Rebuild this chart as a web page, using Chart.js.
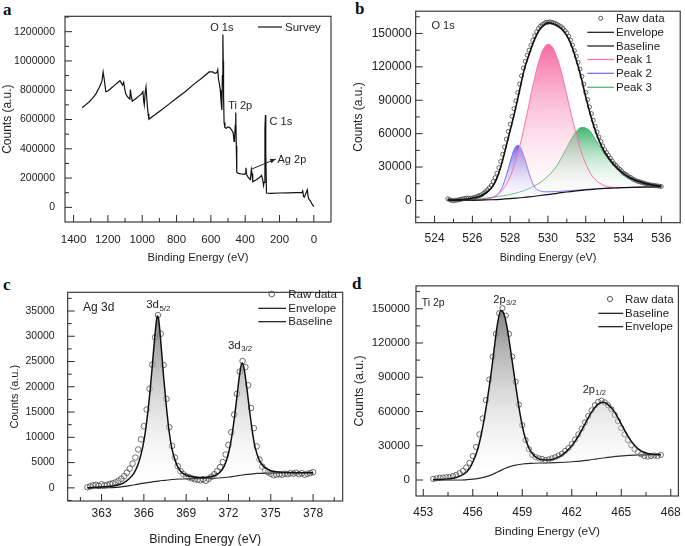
<!DOCTYPE html>
<html><head><meta charset="utf-8">
<script src="https://cdn.jsdelivr.net/npm/chart.js@4.4.1/dist/chart.umd.min.js"></script>
<style>
html,body{margin:0;padding:0;background:#fff;overflow:hidden;width:685px;height:546px;position:relative;}
canvas{position:absolute;}
.lab{position:absolute;font-family:"Liberation Serif","Times New Roman",serif;font-weight:bold;font-size:17px;color:#111;line-height:1;}
</style></head><body>
<div class="lab" style="left:3px;top:1px;">a</div>
<div class="lab" style="left:355px;top:0px;">b</div>
<div class="lab" style="left:3px;top:276px;">c</div>
<div class="lab" style="left:352px;top:275px;">d</div>
<canvas id="cA" width="342" height="270" style="left:0;top:0"></canvas>
<canvas id="cB" width="343" height="270" style="left:342px;top:0"></canvas>
<canvas id="cC" width="350" height="273" style="left:0;top:273px"></canvas>
<canvas id="cD" width="345" height="273" style="left:345px;top:273px"></canvas>
<script>
// ---------------- DATA ----------------
// (a) Survey
const surveyBE = [1350,1330,1310,1290,1270,1250,1235,1228,1222,1212,1200,1180,1160,1140,1130,1122,1115,1108,1102,1096,1088,1078,1072,1069,1064,1058,1040,1020,1004,996,992,988,983,978,972,966,961,940,900,850,800,750,700,650,610,590,575,565,560,556,550,545,541,536,533,530,528,526,523,518,510,500,490,480,470,465,462,458,455,452,449,440,420,405,400,396,392,385,375,370,364,360,356,340,320,305,298,293,290,285,282,280,276,250,200,150,100,70,65,60,55,45,38,33,28,20,12,6,0];
const surveyCounts = [680000,700000,720000,745000,775000,820000,860000,925000,880000,790000,795000,815000,835000,855000,865000,850000,835000,855000,810000,775000,760000,745000,740000,805000,760000,725000,740000,760000,775000,790000,730000,700000,780000,822000,720000,640000,602000,620000,655000,700000,745000,790000,840000,885000,925000,925000,915000,920000,940000,880000,840000,800000,730000,665000,900000,1180000,1000000,760000,580000,545000,540000,550000,545000,530000,510000,450000,470000,560000,648000,420000,240000,232000,228000,225000,230000,270000,225000,210000,195000,190000,258000,230000,175000,185000,200000,218000,190000,150000,170000,540000,630000,380000,98000,96000,98000,99000,100000,100000,112000,75000,70000,100000,120000,70000,55000,45000,25000,15000,5000];
const aXTicks = [0,200,400,600,800,1000,1200,1400];
const aYTicks = [0,200000,400000,600000,800000,1000000,1200000];

// (b) O 1s
const o1sRawBE = [524.7,524.8,524.9,525.0,525.1,525.2,525.3,525.4,525.5,525.6,525.7,525.8,525.9,526.0,526.1,526.2,526.3,526.4,526.5,526.6,526.7,526.8,526.9,527.0,527.1,527.2,527.3,527.4,527.5,527.6,527.7,527.8,527.9,528.0,528.1,528.2,528.3,528.4,528.5,528.6,528.7,528.8,528.9,529.0,529.1,529.2,529.3,529.4,529.5,529.6,529.7,529.8,529.9,530.0,530.1,530.2,530.3,530.4,530.5,530.6,530.7,530.8,530.9,531.0,531.1,531.2,531.3,531.4,531.5,531.6,531.7,531.8,531.9,532.0,532.1,532.2,532.3,532.4,532.5,532.6,532.7,532.8,532.9,533.0,533.1,533.2,533.3,533.4,533.5,533.6,533.7,533.8,533.9,534.0,534.1,534.2,534.3,534.4,534.5,534.6,534.7,534.8,534.9,535.0,535.1,535.2,535.3,535.4,535.5,535.6,535.7,535.8,535.9,536.0];
const o1sRaw = [1500,700,0,-300,200,300,600,1000,1500,1800,
2200,2000,1900,2200,2600,3200,4000,4500,5200,6500,
8000,9500,11500,13500,17000,20500,24500,29500,35000,41500,
48000,55000,62000,68500,75500,82500,89500,97000,104500,112000,
119000,125000,130500,135000,139500,144000,148000,151500,154500,156500,
158000,159000,160000,160000,160500,160000,159500,159000,158000,157000,
156000,154500,152500,150500,147500,144000,139500,134500,129500,124000,
118000,111500,104500,97000,90500,84000,78000,72000,66500,61500,
57000,53000,49000,45500,43000,40500,38000,35500,33000,31500,
29500,28000,26500,24500,23500,22500,21000,20500,19000,18500,
17500,17000,16500,16000,15500,14800,14500,14000,13800,13500,
13200,13000,12800,12500];
const o1sEnvBE = [524.7,525.0,525.5,526.0,526.5,527.0,527.25,527.5,527.75,528.0,528.25,528.5,528.75,529.0,529.25,529.5,529.75,530.0,530.25,530.5,530.75,531.0,531.25,531.5,531.75,532.0,532.25,532.5,532.75,533.0,533.5,534.0,534.5,535.0,535.5,536.0];
const o1sEnv = [800,300,700,2000,4500,11000,18000,30000,46000,63000,80000,99000,118000,131000,143000,152000,157000,159500,159000,157000,153500,148000,139000,126000,111000,93000,77000,63000,52000,43500,32000,24000,19000,16000,14000,12800];
const o1sBaseBE = [524.7,525,525.5,526,526.5,527,527.5,528,528.5,529,529.5,530,530.5,531,531.5,532,532.5,533,533.5,534,535,536];
const o1sBase = [0,0,50,100,350,600,1000,1600,2400,3200,4200,5300,6400,7600,8600,9500,10200,10800,11150,11500,12000,12300];
const o1sPeak1BE = [526,526.5,527,527.5,527.75,528,528.25,528.5,528.75,529,529.25,529.5,529.75,530,530.25,530.5,530.75,531,531.25,531.5,531.75,532,532.25,532.5,533,533.5,534,535];
const o1sPeak1 = [160,750,2400,7700,13200,21300,33000,48200,66500,86700,106700,123900,135750,140300,137350,127400,112500,94600,76100,59100,44550,33000,24350,18700,13300,11750,11600,12000];
const o1sPeak2BE = [526,526.5,527,527.2,527.4,527.6,527.8,528,528.2,528.4,528.6,528.8,529,529.2,529.4,529.6,529.8,530,530.5,531,532,533,534,535,536];
const o1sPeak2 = [300,850,2100,3400,6400,12650,22550,34600,45250,49550,45850,35850,24400,15050,10000,8500,7800,7800,8000,8600,9900,10950,11550,12000,12300];
const o1sPeak3BE = [525,526,527,528,528.5,529,529.5,530,530.5,531,531.25,531.5,531.8,532,532.25,532.5,532.75,533,533.5,534,534.5,535,535.5,536];
const o1sPeak3 = [300,900,2600,5400,7600,10700,15200,21800,31900,47600,55600,62100,65600,65000,61850,55000,48500,41500,30800,23600,18900,15800,13900,12900];
const bXTicks = [524,526,528,530,532,534,536];
const bYTicks = [0,30000,60000,90000,120000,150000];

// (c) Ag 3d
const ag3dRawBE = [362.0,362.2,362.4,362.6,362.8,363.0,363.2,363.4,363.6,363.8,364.0,364.2,364.4,364.6,364.8,365.0,365.2,365.4,365.6,365.8,366.0,366.2,366.4,366.6,366.8,367.0,367.2,367.4,367.6,367.8,368.0,368.2,368.4,368.6,368.8,369.0,369.2,369.4,369.6,369.8,370.0,370.2,370.4,370.6,370.8,371.0,371.2,371.4,371.6,371.8,372.0,372.2,372.4,372.6,372.8,373.0,373.2,373.4,373.6,373.8,374.0,374.2,374.4,374.6,374.8,375.0,375.2,375.4,375.6,375.8,376.0,376.2,376.4,376.6,376.8,377.0,377.2,377.4,377.6,377.8,378.0];
const ag3dRaw = [100,300,500,600,400,700,500,600,800,900,
1100,1400,1800,2300,3000,3800,4800,6000,7600,9600,
12200,15500,19600,24400,29800,34200,30500,24300,17600,12000,
8300,6000,4300,3300,2700,2300,2100,1900,1700,1600,
1500,1700,1400,1800,2200,2700,3300,4100,5100,6600,
8500,11000,14500,18600,23000,25100,23900,20300,15800,11800,
8200,5600,4200,3500,3100,2800,2500,2600,2700,2600,
2800,2700,2900,2800,3000,2700,2900,2600,2800,2900,
3100];
const ag3dEnvBE = [362.0,362.5,363.0,363.5,364.0,364.5,365.0,365.3,365.6,365.9,366.1,366.3,366.5,366.7,366.85,366.95,367.05,367.2,367.4,367.6,367.8,368.0,368.3,368.6,369.0,369.5,370.0,370.5,371.0,371.4,371.7,372.0,372.2,372.4,372.6,372.8,372.95,373.1,373.3,373.5,373.7,373.9,374.2,374.5,375.0,375.5,376.0,377.0,378.0];
const ag3dEnv = [0,100,150,250,450,900,1900,2900,4700,7800,11000,15400,21000,27500,32000,34000,33300,29000,22000,16000,11000,7600,4800,3300,2500,2150,2050,2100,2400,3100,4300,6800,9600,13400,18000,22600,24700,23700,19800,15200,11000,7900,5400,4200,3400,3150,3050,3000,3000];
const ag3dBaseBE = [362,363,363.5,364,364.5,365,365.5,366,366.5,367,367.5,368,368.5,369,370,371,371.5,372,372.5,373,373.5,374,374.5,375,376,377,378];
const ag3dBase = [0,0,20,100,250,450,700,950,1150,1350,1500,1650,1750,1800,1850,1900,2000,2150,2350,2550,2700,2850,2920,2950,3000,3000,3000];
const cXTicks = [363,366,369,372,375,378];
const cYTicks = [0,5000,10000,15000,20000,25000,30000,35000];

// (d) Ti 2p
const ti2pRawBE = [453.6,453.8,454.0,454.2,454.4,454.6,454.8,455.0,455.2,455.4,455.6,455.8,456.0,456.2,456.4,456.6,456.8,457.0,457.2,457.4,457.6,457.8,458.0,458.2,458.4,458.6,458.8,459.0,459.2,459.4,459.6,459.8,460.0,460.2,460.4,460.6,460.8,461.0,461.2,461.4,461.6,461.8,462.0,462.2,462.4,462.6,462.8,463.0,463.2,463.4,463.6,463.8,464.0,464.2,464.4,464.6,464.8,465.0,465.2,465.4,465.6,465.8,466.0,466.2,466.4,466.6,466.8,467.0,467.2,467.4];
const ti2pRaw = [1000,1500,2000,2200,2500,2800,3500,4500,6000,8000,
11000,15000,21000,29000,40000,54000,70000,88000,108000,128000,
146000,150500,144000,128000,108000,86000,66000,48000,35000,27000,
22000,20000,19000,18500,17500,18000,19000,20000,21500,23000,
25500,28000,31500,35500,40000,45000,50500,56000,61000,65500,
68500,69500,68000,65500,62000,57000,51500,45500,40000,35000,
30500,27000,24500,22500,21000,20500,21000,21500,21000,22000];
const ti2pEnvBE = [453.6,454.0,454.5,455.0,455.5,455.8,456.0,456.3,456.5,456.7,456.9,457.1,457.3,457.5,457.7,457.9,458.1,458.3,458.5,458.7,458.9,459.1,459.4,459.7,460.0,460.4,460.8,461.2,461.6,462.0,462.4,462.8,463.2,463.6,463.9,464.2,464.6,465.0,465.4,465.8,466.2,466.6,467.0,467.4];
const ti2pEnv = [300,500,1000,2200,5500,10000,15500,27000,39000,54000,72000,92000,115000,137000,148500,145000,132000,113000,93000,73000,55000,41000,28000,21500,18500,17500,18000,20000,24000,30000,38500,49000,59500,66500,68000,66000,59500,49000,38500,30500,25500,23200,22400,22200];
const ti2pBaseBE = [453.6,455,455.5,456,456.5,457,457.5,458,458.5,459,459.5,460,461,462,463,463.5,464,465,466,467.4];
const ti2pBase = [0,0,200,700,1800,3800,7000,10500,12800,14000,14600,14900,15200,16000,17500,18500,19500,21200,22000,22300];
const dXTicks = [453,456,459,462,465,468];
const dYTicks = [0,30000,60000,90000,120000,150000];

// ---------------- HELPERS ----------------
const FONT = '"Liberation Sans", Arial, Helvetica, sans-serif';
const TXT = '#222';
function pts(xs, ys){ return xs.map((x,i)=>({x:x, y:ys[i]})); }
function minorsOf(maj, min, max){
  const out=[]; const st = maj[1]-maj[0];
  for(let i=0;i<maj.length-1;i++) out.push((maj[i]+maj[i+1])/2);
  let v = maj[0]-st/2; if (v>min) out.push(v);
  v = maj[maj.length-1]+st/2; if (v<max) out.push(v);
  return out;
}
function vGrad(top, bottom, c1, c2){
  return (ctx)=>{
    const ch = ctx.chart; if(!ch.chartArea) return c2;
    const y = ch.scales.y;
    const g = ch.ctx.createLinearGradient(0, y.getPixelForValue(top), 0, y.getPixelForValue(bottom));
    g.addColorStop(0, c1); g.addColorStop(1, c2); return g;
  };
}
function subText(ctx, cx, cy, base, sub, size){
  ctx.textBaseline='middle'; ctx.textAlign='left';
  ctx.font = size+'px '+FONT; const w1 = ctx.measureText(base).width;
  let w2 = 0; const ss = size*0.68;
  if (sub){ ctx.font = ss+'px '+FONT; w2 = ctx.measureText(sub).width; }
  const x0 = cx-(w1+w2)/2;
  ctx.font = size+'px '+FONT; ctx.fillText(base, x0, cy);
  if (sub){ ctx.font = ss+'px '+FONT; ctx.fillText(sub, x0+w1+0.5, cy+size*0.32); }
}
function decor(d){
  return { id:'decor', afterDraw(chart){
    const {ctx, chartArea:ca, scales:{x,y}} = chart;
    ctx.save();
    ctx.strokeStyle='#2a2a2a'; ctx.lineWidth=1.1;
    ctx.strokeRect(ca.left, ca.top, ca.right-ca.left, ca.bottom-ca.top);
    ctx.lineWidth=1;
    const xmin = Math.min(x.min,x.max), xmax = Math.max(x.min,x.max);
    const drawX=(v,len)=>{const p=x.getPixelForValue(v); ctx.beginPath(); ctx.moveTo(p,ca.bottom); ctx.lineTo(p,ca.bottom-len); ctx.stroke();};
    const drawY=(v,len)=>{const p=y.getPixelForValue(v); ctx.beginPath(); ctx.moveTo(ca.left,p); ctx.lineTo(ca.left+len,p); ctx.stroke();};
    d.xMaj.forEach(v=>drawX(v,7)); minorsOf(d.xMaj,xmin,xmax).forEach(v=>drawX(v,4));
    d.yMaj.forEach(v=>drawY(v,7)); minorsOf(d.yMaj,y.min,y.max).forEach(v=>drawY(v,4));
    ctx.fillStyle=TXT;
    (d.texts||[]).forEach(t=>subText(ctx, x.getPixelForValue(t.x), y.getPixelForValue(t.y), t.t, t.sub, t.size));
    (d.arrows||[]).forEach(a=>{
      const x0=x.getPixelForValue(a.x0), y0=y.getPixelForValue(a.y0), x1=x.getPixelForValue(a.x1), y1=y.getPixelForValue(a.y1);
      ctx.strokeStyle='#222'; ctx.lineWidth=1; ctx.beginPath(); ctx.moveTo(x0,y0); ctx.lineTo(x1,y1); ctx.stroke();
      const ang=Math.atan2(y1-y0,x1-x0), h=6;
      ctx.beginPath(); ctx.moveTo(x1,y1); ctx.lineTo(x1-h*Math.cos(ang-0.4),y1-h*Math.sin(ang-0.4)); ctx.lineTo(x1-h*Math.cos(ang+0.4),y1-h*Math.sin(ang+0.4)); ctx.closePath(); ctx.fillStyle='#222'; ctx.fill();
    });
    (d.legend||[]).forEach(l=>{
      if (l.kind==='circle'){ ctx.beginPath(); ctx.arc(l.cx,l.y,l.r||2.5,0,Math.PI*2); ctx.strokeStyle=l.color; ctx.lineWidth=0.9; ctx.stroke(); }
      else { ctx.beginPath(); ctx.moveTo(l.x0,l.y); ctx.lineTo(l.x1,l.y); ctx.strokeStyle=l.color; ctx.lineWidth=l.w||1.2; ctx.stroke(); }
      ctx.fillStyle=TXT; ctx.font='11.5px '+FONT; ctx.textAlign='left'; ctx.textBaseline='middle'; ctx.fillText(l.text, l.tx, l.y+0.5);
    });
    ctx.restore();
  }};
}
function scalesFor(p){
  return {
    x:{type:'linear', min:p.xmin, max:p.xmax, reverse:!!p.rev,
      grid:{display:false, drawTicks:false}, border:{display:false},
      afterFit:(s)=>{s.height=p.xh;},
      afterBuildTicks:(s)=>{s.ticks=p.xMaj.map(v=>({value:v}));},
      ticks:{autoSkip:false, maxRotation:0, minRotation:0, padding:p.xpad, color:TXT, font:{family:FONT,size:p.xfs}, callback:(v)=>String(v)},
      title:{display:true, text:'Binding Energy (eV)', color:TXT, font:{family:FONT,size:p.xtfs,lineHeight:1}, padding:{top:0,bottom:p.xtpad}}},
    y:{type:'linear', min:p.ymin, max:p.ymax,
      grid:{display:false, drawTicks:false}, border:{display:false},
      afterFit:(s)=>{s.width=p.yw;},
      afterBuildTicks:(s)=>{s.ticks=p.yMaj.map(v=>({value:v}));},
      ticks:{autoSkip:false, padding:p.ypad, color:TXT, font:{family:FONT,size:p.yfs}, callback:(v)=>String(v)},
      title:{display:true, text:'Counts (a.u.)', color:TXT, font:{family:FONT,size:p.ytfs,lineHeight:1}, padding:{top:p.ytpad,bottom:0}}}
  };
}
const common = {responsive:false, animation:false, devicePixelRatio:1,
  plugins:{legend:{display:false}, tooltip:{enabled:false}}, events:[]};
function lineDS(xs, ys, color, w, extra){
  return Object.assign({data:pts(xs,ys), borderColor:color, borderWidth:w, pointRadius:0, fill:false, cubicInterpolationMode:'monotone'}, extra||{});
}
function rawDS(xs, ys, color, r, extra){
  return Object.assign({data:pts(xs,ys), showLine:false, pointRadius:r, pointStyle:'circle', pointBorderColor:color, pointBackgroundColor:'rgba(0,0,0,0)', pointBorderWidth:0.8}, extra||{});
}

// ---------------- PANEL A ----------------
new Chart(document.getElementById('cA'), {
  type:'line',
  data:{datasets:[ lineDS(surveyBE, surveyCounts, '#111', 1.2, {cubicInterpolationMode:'default', tension:0}) ]},
  options:Object.assign({}, common, {
    layout:{padding:{top:8,right:11,left:0,bottom:0}},
    scales:scalesFor({xmin:-100,xmax:1450,rev:true,ymin:-100000,ymax:1305000,xMaj:aXTicks,yMaj:aYTicks,
      xh:48,yw:65,xpad:11,ypad:10,xfs:11.5,yfs:10.5,xtfs:11.3,ytfs:12,xtpad:6,ytpad:2})
  }),
  plugins:[decor({xMaj:aXTicks,yMaj:aYTicks,
    texts:[{x:536,y:1222000,t:'O 1s',size:11},{x:429,y:690000,t:'Ti 2p',size:11},{x:192,y:583000,t:'C 1s',size:11},{x:128,y:326000,t:'Ag 2p',size:11}],
    arrows:[{x0:361,y0:262000,x1:222,y1:330000}],
    legend:[{kind:'line',x0:258,x1:282,y:27,color:'#111',text:'Survey',tx:285}]
  })]
});

// ---------------- PANEL B ----------------
new Chart(document.getElementById('cB'), {
  type:'line',
  data:{datasets:[
    lineDS(o1sBaseBE, o1sBase, '#111', 1.2, {order:2}),
    lineDS(o1sPeak1BE, o1sPeak1, '#ff6fb0', 1, {order:3, fill:0, backgroundColor:vGrad(140000,5000,'rgba(244,80,145,0.85)','rgba(255,235,245,0.1)')}),
    lineDS(o1sPeak2BE, o1sPeak2, '#6a6aff', 1, {order:3, fill:0, backgroundColor:vGrad(49500,2000,'rgba(90,80,225,0.85)','rgba(235,235,255,0.1)')}),
    lineDS(o1sPeak3BE, o1sPeak3, '#4cb36a', 1, {order:3, fill:0, backgroundColor:vGrad(65600,10000,'rgba(30,165,85,0.85)','rgba(235,250,240,0.1)')}),
    lineDS(o1sEnvBE, o1sEnv, '#111', 1.6, {order:0}),
    rawDS(o1sRawBE, o1sRaw, '#444', 2, {order:1})
  ]},
  options:Object.assign({}, common, {
    layout:{padding:{top:8,right:3.3,left:0,bottom:0}},
    scales:scalesFor({xmin:523,xmax:537,ymin:-20000,ymax:170000,xMaj:bXTicks,yMaj:bYTicks,
      xh:47.3,yw:73.7,xpad:9,ypad:4,xfs:12,yfs:12,xtfs:10.8,ytfs:12,xtpad:7,ytpad:11})
  }),
  plugins:[decor({xMaj:bXTicks,yMaj:bYTicks,
    texts:[{x:524.45,y:156800,t:'O 1s',size:11}],
    legend:[
      {kind:'circle',cx:258.7,y:18.3,r:2,color:'#444',text:'Raw data',tx:274},
      {kind:'line',x0:245.3,x1:272,y:32.3,color:'#111',text:'Envelope',tx:274},
      {kind:'line',x0:245.3,x1:272,y:46,color:'#111',text:'Baseline',tx:274},
      {kind:'line',x0:245.3,x1:272,y:59.5,color:'#ff6fb0',text:'Peak 1',tx:274},
      {kind:'line',x0:245.3,x1:272,y:73.3,color:'#6a6aff',text:'Peak 2',tx:274},
      {kind:'line',x0:245.3,x1:272,y:87.3,color:'#4cb36a',text:'Peak 3',tx:274}
    ]
  })]
});

// ---------------- PANEL C ----------------
new Chart(document.getElementById('cC'), {
  type:'line',
  data:{datasets:[
    lineDS(ag3dBaseBE, ag3dBase, '#111', 1.2, {order:2}),
    lineDS(ag3dEnvBE, ag3dEnv, '#111', 1.5, {order:0, fill:0, backgroundColor:vGrad(34000,1500,'rgba(120,120,120,0.9)','rgba(255,255,255,0.2)')}),
    rawDS(ag3dRawBE, ag3dRaw, '#4a4a4a', 2.8, {order:1})
  ]},
  options:Object.assign({}, common, {
    layout:{padding:{top:9,right:7.3,left:0,bottom:0}},
    scales:scalesFor({xmin:360.6,xmax:380.1,ymin:-2600,ymax:38700,xMaj:cXTicks,yMaj:cYTicks,
      xh:45,yw:67.7,xpad:5.5,ypad:13,xfs:12,yfs:10.5,xtfs:12.5,ytfs:11,xtpad:0.5,ytpad:9.5})
  }),
  plugins:[decor({xMaj:cXTicks,yMaj:cYTicks,
    texts:[{x:362.8,y:35700,t:'Ag 3d',size:12},{x:367.0,y:36250,t:'3d',sub:'5/2',size:11.5},{x:372.8,y:28150,t:'3d',sub:'3/2',size:11.5}],
    legend:[
      {kind:'circle',cx:271.7,y:21,r:2.8,color:'#4a4a4a',text:'Raw data',tx:288.3},
      {kind:'line',x0:258.3,x1:286,y:35.3,color:'#111',text:'Envelope',tx:288.3},
      {kind:'line',x0:258.3,x1:286,y:48.7,color:'#111',text:'Baseline',tx:288.3}
    ]
  })]
});

// ---------------- PANEL D ----------------
new Chart(document.getElementById('cD'), {
  type:'line',
  data:{datasets:[
    lineDS(ti2pBaseBE, ti2pBase, '#111', 1.2, {order:2}),
    lineDS(ti2pEnvBE, ti2pEnv, '#111', 1.5, {order:0, fill:0, backgroundColor:vGrad(148500,5000,'rgba(120,120,120,0.9)','rgba(255,255,255,0.2)')}),
    rawDS(ti2pRawBE, ti2pRaw, '#4a4a4a', 2.6, {order:1})
  ]},
  options:Object.assign({}, common, {
    layout:{padding:{top:11,right:7.3,left:0,bottom:0}},
    scales:scalesFor({xmin:452.56,xmax:468.46,ymin:-14000,ymax:170000,xMaj:dXTicks,yMaj:dYTicks,
      xh:50,yw:71,xpad:9,ypad:6,xfs:12,yfs:11.5,xtfs:11.8,ytfs:12.3,xtpad:8,ytpad:8.8})
  }),
  plugins:[decor({xMaj:dXTicks,yMaj:dYTicks,
    texts:[{x:453.6,y:154600,t:'Ti 2p',size:10.5},{x:457.93,y:158100,t:'2p',sub:'3/2',size:11},{x:463.35,y:79000,t:'2p',sub:'1/2',size:11}],
    legend:[
      {kind:'circle',cx:265,y:26,r:2.6,color:'#4a4a4a',text:'Raw data',tx:280},
      {kind:'line',x0:253.3,x1:278.3,y:40.3,color:'#111',text:'Baseline',tx:280},
      {kind:'line',x0:253.3,x1:278.3,y:53.7,color:'#111',text:'Envelope',tx:280}
    ]
  })]
});
</script>
</body></html>
